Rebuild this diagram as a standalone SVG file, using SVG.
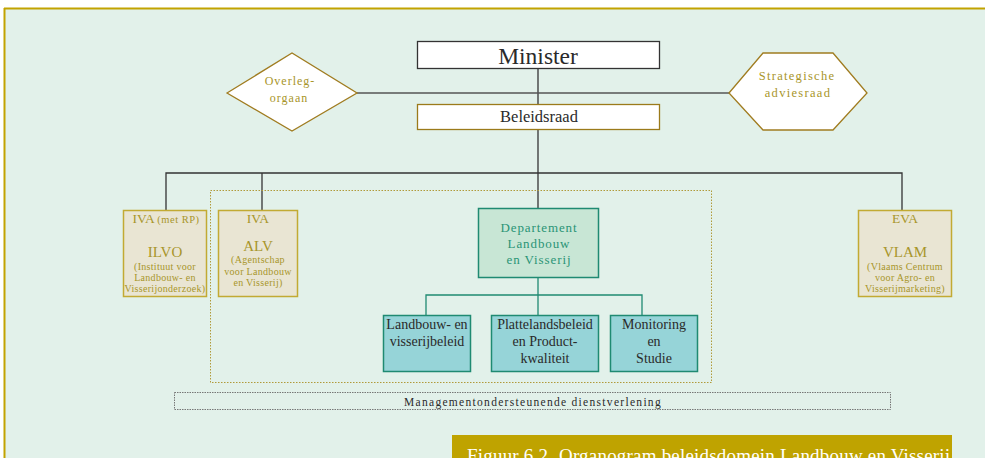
<svg xmlns="http://www.w3.org/2000/svg" width="985" height="458" viewBox="0 0 985 458">
<style>
.s{font-family:"Liberation Serif","Times New Roman",serif;text-anchor:middle}
.gold{fill:#a8952a}
.dk{fill:#2a2a2a}
.teal{fill:#2a9475}
.ln{stroke:#333;stroke-width:1.3;fill:none}
.iva{fill:#e9e5d3;stroke:#c2aa33;stroke-width:1.5}
.sub{fill:#96d4d8;stroke:#1f8a72;stroke-width:1.5}
.sm{font-size:10px;letter-spacing:0.3px}
.sb{font-size:14px}
</style>
<rect x="0" y="0" width="985" height="458" fill="#ffffff"/>
<rect x="4" y="8" width="981" height="450" fill="#e2f1ea"/>
<line x1="4" y1="8.5" x2="985" y2="8.5" stroke="#c2a300" stroke-width="2"/>
<line x1="4.5" y1="8" x2="4.5" y2="458" stroke="#c2a300" stroke-width="2"/>

<g id="connectors">
<line class="ln" x1="538" y1="68" x2="538" y2="104"/>
<line x1="357" y1="93" x2="729" y2="93" stroke="#555" stroke-width="1.5"/>
<line class="ln" x1="538" y1="130" x2="538" y2="208"/>
<polyline class="ln" points="166,210 166,173 902,173 902,210"/>
<line class="ln" x1="262" y1="173" x2="262" y2="210"/>
<line x1="538" y1="278" x2="538" y2="315" stroke="#1f8a72" stroke-width="1.3"/>
<polyline points="426,315 426,295 642,295 642,315" fill="none" stroke="#1f8a72" stroke-width="1.3"/>
</g>

<rect x="210.5" y="190.5" width="501" height="192" fill="none" stroke="#b09a3a" stroke-width="1" stroke-dasharray="1.5 1.5"/>

<g id="minister">
<rect x="417.5" y="41.5" width="242" height="27" fill="#fff" stroke="#333" stroke-width="1.3"/>
<text class="s dk" x="538" y="64" font-size="23.5">Minister</text>
</g>
<g id="beleidsraad">
<rect x="417.5" y="104.5" width="242" height="25" fill="#fff" stroke="#9b7a1a" stroke-width="1.3"/>
<text class="s dk" x="539" y="122" font-size="16.5">Beleidsraad</text>
</g>
<g id="overleg">
<polygon points="227,93 292,53 357,93 292,131" fill="#fff" stroke="#a07c20" stroke-width="1.3"/>
<text class="s gold" x="290" y="85" font-size="12" letter-spacing="1">Overleg-</text>
<text class="s gold" x="289" y="102" font-size="12" letter-spacing="1">orgaan</text>
</g>
<g id="strategisch">
<polygon points="729,93 763,53 833,53 867,93 833,130 763,130" fill="#fff" stroke="#a07c20" stroke-width="1.3"/>
<text class="s gold" x="797" y="80" font-size="12.5" letter-spacing="1.3">Strategische</text>
<text class="s gold" x="798" y="97" font-size="12.5" letter-spacing="1.3">adviesraad</text>
</g>
<g id="ilvo">
<rect class="iva" x="123.5" y="210.5" width="83" height="86"/>
<text class="s gold" x="166" y="223" font-size="13.5">IVA <tspan font-size="10.5" letter-spacing="0.5">(met RP)</tspan></text>
<text class="s gold" x="165" y="257" font-size="15">ILVO</text>
<text class="s gold sm" x="165" y="270">(Instituut voor</text>
<text class="s gold sm" x="165" y="281">Landbouw- en</text>
<text class="s gold sm" x="165" y="292">Visserijonderzoek)</text>
</g>
<g id="alv">
<rect class="iva" x="218.5" y="210.5" width="79" height="86"/>
<text class="s gold" x="258" y="223" font-size="13.5">IVA</text>
<text class="s gold" x="258" y="251" font-size="15">ALV</text>
<text class="s gold sm" x="258" y="263">(Agentschap</text>
<text class="s gold sm" x="258" y="275">voor Landbouw</text>
<text class="s gold sm" x="258" y="286">en Visserij)</text>
</g>
<g id="departement">
<rect x="478.5" y="208.5" width="120" height="69" fill="#c8e6d5" stroke="#1f8a72" stroke-width="1.5"/>
<text class="s teal" x="539" y="232" font-size="13" letter-spacing="0.9">Departement</text>
<text class="s teal" x="539" y="248" font-size="13" letter-spacing="0.9">Landbouw</text>
<text class="s teal" x="539" y="264" font-size="13" letter-spacing="0.9">en Visserij</text>
</g>
<g id="landbouwbeleid">
<rect class="sub" x="383.5" y="315.5" width="87" height="56"/>
<text class="s dk sb" x="427" y="329">Landbouw- en</text>
<text class="s dk sb" x="427" y="346">visserijbeleid</text>
</g>
<g id="plattelandsbeleid">
<rect class="sub" x="491.5" y="315.5" width="107" height="56"/>
<text class="s dk sb" x="545" y="329">Plattelandsbeleid</text>
<text class="s dk sb" x="545" y="346">en Product-</text>
<text class="s dk sb" x="545" y="363">kwaliteit</text>
</g>
<g id="monitoring">
<rect class="sub" x="610.5" y="315.5" width="87" height="56"/>
<text class="s dk sb" x="654" y="329">Monitoring</text>
<text class="s dk sb" x="654" y="346">en</text>
<text class="s dk sb" x="654" y="363">Studie</text>
</g>
<g id="vlam">
<rect class="iva" x="858.5" y="210.5" width="93" height="86"/>
<text class="s gold" x="905" y="223" font-size="13.5">EVA</text>
<text class="s gold" x="905" y="257" font-size="15">VLAM</text>
<text class="s gold sm" x="905" y="270">(Vlaams Centrum</text>
<text class="s gold sm" x="905" y="281">voor Agro- en</text>
<text class="s gold sm" x="905" y="292">Visserijmarketing)</text>
</g>
<g id="management">
<rect x="174.5" y="392.5" width="716" height="17" fill="none" stroke="#777" stroke-width="1" stroke-dasharray="1.5 1"/>
<text class="s dk" x="533" y="405.5" font-size="11.5" letter-spacing="1.3">Managementondersteunende dienstverlening</text>
</g>
<g id="caption">
<rect x="452" y="435" width="500" height="23" fill="#bfa300"/>
<text x="467" y="462" font-family="'Liberation Serif','Times New Roman',serif" font-size="19" letter-spacing="0.2" fill="#fff">Figuur 6.2<tspan x="559">Organogram beleidsdomein Landbouw en Visserij</tspan></text>
</g>
</svg>
